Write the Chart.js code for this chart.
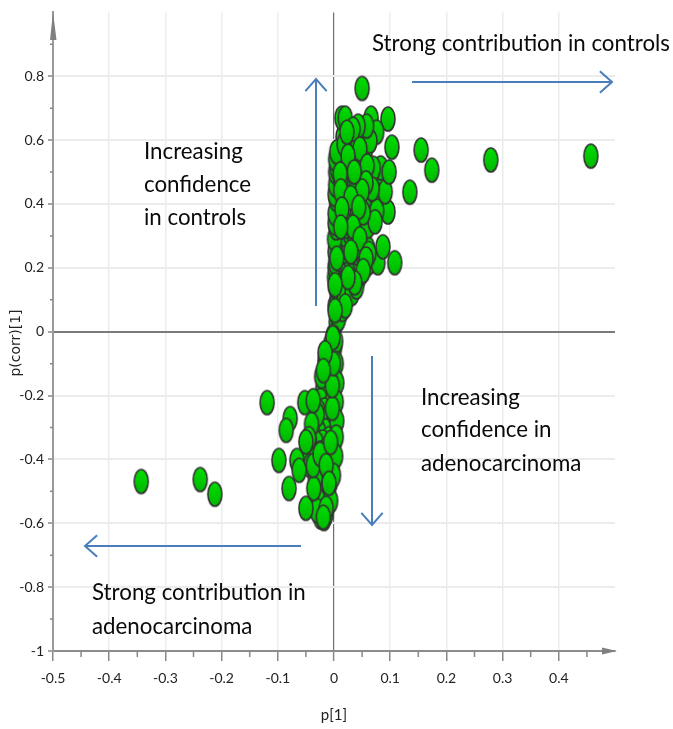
<!DOCTYPE html>
<html><head><meta charset="utf-8">
<style>html,body{margin:0;padding:0;background:#fff}canvas{display:block}</style>
<script src="https://cdn.jsdelivr.net/npm/chart.js@4"></script>
</head><body><canvas id="c" width="673" height="729"></canvas>
<script>
const xTitle = "p[1]";
const yTitle = "p(corr)[1]";
const backPoints = [
[.004,.03],[.009,.055],[.002,.08],[.012,.09],[.006,.11],[.014,.125],[.022,.105],[.003,.14],[.019,.15],[.028,.135],[.01,.165],[.036,.16],[.024,.175],[.044,.17],[.005,.19],[.016,.195],[.031,.19],[.04,.2],[.008,.04],[.015,.07],[.018,.11],[.032,.12],[.04,.14],[.048,.185],[.001,.17],[.002,.2],
[.003,.215],[.011,.225],[.021,.22],[.029,.232],[.038,.225],[.047,.215],[.006,.245],[.016,.25],[.026,.26],[.034,.25],[.043,.245],[.052,.24],[.004,.27],[.013,.28],[.023,.285],[.032,.275],[.041,.27],[.05,.26],[.008,.3],[.018,.305],[.028,.31],[.037,.3],[.002,.25],[.001,.29],[.058,.21],[.065,.22],[.06,.26],[.045,.3],
[.004,.325],[.012,.335],[.021,.33],[.03,.34],[.039,.325],[.047,.33],[.007,.355],[.017,.365],[.026,.36],[.035,.37],[.044,.355],[.052,.35],[.005,.385],[.014,.395],[.024,.39],[.033,.4],[.041,.385],[.002,.34],[.002,.37],[.06,.33],[.056,.4],[.066,.38],[.072,.41],
[.004,.415],[.011,.425],[.019,.42],[.028,.43],[.036,.415],[.045,.42],[.054,.41],[.008,.45],[.016,.455],[.025,.445],[.034,.46],[.043,.45],[.062,.43],[.006,.475],[.014,.485],[.023,.48],[.031,.49],[.04,.475],[.05,.485],[.002,.43],[.003,.46],[.003,.5],[.08,.47],[.075,.43],
[.006,.51],[.014,.52],[.022,.515],[.03,.53],[.04,.51],[.05,.525],[.012,.545],[.02,.555],[.028,.54],[.036,.55],[.044,.54],[.055,.56],[.03,.6],[.04,.61],[.05,.605],[.003,.54],[.06,.5],[.016,.61],[.026,.58],[.055,.62],
[-.002,-.015],[-.006,-.04],[.001,-.05],[-.012,-.07],[-.003,-.085],[-.014,-.11],[-.005,-.12],[-.018,-.135],[-.002,-.15],[-.009,-.165],[-.02,-.18],[-.004,-.19],[-.013,-.205],[-.024,-.215],[-.006,-.23],[-.017,-.245],[-.028,-.25],[-.003,-.26],[-.011,-.27],[-.022,-.28],[-.033,-.285],[-.005,-.3],[-.016,-.31],[-.027,-.315],[-.038,-.32],[-.009,-.335],[-.02,-.345],[-.031,-.35],[-.044,-.34],[-.003,-.36],[-.014,-.37],[-.025,-.38],[-.036,-.385],[-.008,-.395],[-.018,-.41],[-.029,-.42],[-.004,-.43],[-.012,-.445],[-.022,-.455],[-.007,-.475],[-.016,-.49],[-.026,-.5],[-.011,-.52],[-.02,-.54],[-.024,-.58],[-.018,-.585],[-.014,-.57],
[.003,-.03],[.004,-.1],[.005,-.16],[.004,-.22],[.005,-.28],[.004,-.33],[.003,-.39],[-.001,-.45],[-.03,-.26],[-.04,-.29],[-.046,-.38],[-.042,-.42],[-.033,-.46],[-.028,-.53],[-.006,-.53],[-.03,-.56],[-.022,-.14],[-.016,-.09]
];
const frontPoints = [
[.457,.55],[.279,.538],[.174,.506],[.155,.569],[.135,.437],[.05,.762],[.096,.666],[.103,.578],[.066,.669],[.108,.216],[.078,.216],[.087,.266],[.096,.375],[.076,.378],[.073,.344],[.091,.438],[.083,.513],[.07,.512],[.098,.5],
[.076,.625],[.064,.597],[.014,.669],[.02,.669],[.058,.644],[.043,.644],[.034,.634],[.046,.572],[.005,.563],[.018,.587],[.025,.55],[.059,.519],[.023,.625],[.068,.447],[.057,.466],[.05,.441],[.036,.5],[.012,.47],[.011,.494],[.012,.441],[.03,.42],[.052,.372],[.014,.384],[.044,.39],[.034,.328],[.012,.328],[.046,.291],[.062,.245],[.057,.228],[.005,.23],[.03,.25],[.052,.191],[.037,.153],[.025,.17],[.002,.147],[.02,.081],[.002,.066],[-.002,-.019],
[-.343,-.469],[-.238,-.463],[-.212,-.509],[-.119,-.222],[-.078,-.272],[-.085,-.309],[-.098,-.403],[-.08,-.491],[-.05,-.553],[-.066,-.403],[-.062,-.434],[-.052,-.222],[-.037,-.216],[-.036,-.491],[-.037,-.419],[-.045,-.335],[-.05,-.345],[-.025,-.384],[-.014,-.419],[-.009,-.475],[-.014,-.553],[-.019,-.581],[-.006,-.347],[-.003,-.24],[-.003,-.169],[-.001,-.1],[-.016,-.066],[-.019,-.122]
];
const xTicks = [-.5,-.4,-.3,-.2,-.1,0,.1,.2,.3,.4];
const yTicks = [-1,-.8,-.6,-.4,-.2,0,.2,.4,.6,.8];
const notes = [
 ["Strong contribution in controls",372,44],
 ["Increasing",144,152],["confidence",144,185],["in controls",144,218],
 ["Increasing",421,398],["confidence in",421,430],["adenocarcinoma",421,464],
 ["Strong contribution in",92,593],["adenocarcinoma",92,627]
];
const arrows = [[316,306,316,79],[412,82,612,82],[372,356,372,525],[301,546,85,546]];

function marker(){
  const m=document.createElement('canvas');m.width=18;m.height=28;
  const g=m.getContext('2d');
  const f=g.createLinearGradient(0,2,0,26);f.addColorStop(0,'#00de00');f.addColorStop(1,'#00b800');
  g.beginPath();g.ellipse(9,14,7,12,0,0,Math.PI*2);g.fillStyle=f;g.fill();
  g.lineWidth=1.6;g.strokeStyle='#333';g.stroke();
  return m;
}
const toXY=p=>({x:p[0],y:p[1]});
const same=(a,b)=>Math.abs(a-b)<1e-6;
const fmt=v=>String(Math.round(v*10)/10);
const LBL="Lato";

const decor={id:'decor',
 afterDraw(ch){
  const c=ch.ctx,xs=ch.scales.x,ys=ch.scales.y;c.save();
  c.strokeStyle='#888';c.lineWidth=1.5;c.beginPath();
  for(let i=0;i<10;i++){const p=xs.getPixelForValue(-.45+i*.1);c.moveTo(p,ch.chartArea.bottom);c.lineTo(p,ch.chartArea.bottom+6);}
  for(let i=0;i<10;i++){const p=ys.getPixelForValue(-.9+i*.2);c.moveTo(ch.chartArea.left-3,p);c.lineTo(ch.chartArea.left,p);}
  c.stroke();
  c.fillStyle='#808080';
  c.beginPath();c.moveTo(53,12);c.lineTo(50,40);c.lineTo(56.5,40);c.closePath();c.fill();
  c.beginPath();c.moveTo(617,651);c.lineTo(602,647.5);c.lineTo(602,654.5);c.closePath();c.fill();
  c.strokeStyle='#4a7ebb';c.lineWidth=2;
  for(const [a,b,d,e] of arrows){
    const t=Math.atan2(e-b,d-a),L=19;
    c.beginPath();c.moveTo(a,b);c.lineTo(d,e);
    c.moveTo(d-L*Math.cos(t-.72)*.85,e-L*Math.sin(t-.72)*.85);c.lineTo(d,e);c.lineTo(d-L*Math.cos(t+.72)*.85,e-L*Math.sin(t+.72)*.85);
    c.stroke();
  }
  c.fillStyle='#0a0a0a';c.font="22.3px Lato";c.textBaseline='middle';c.textAlign='left';
  for(const [s,x,y] of notes)c.fillText(s,x,y);
  c.save();c.translate(16,343);c.rotate(-Math.PI/2);c.textAlign='center';c.font="14px 'DejaVu Sans'";c.fillStyle='#222';c.fillText(yTitle,0,0);c.restore();
  c.restore();
 }};

new Chart(document.getElementById('c'),{
 type:'scatter',
 data:{datasets:[{data:backPoints.concat(frontPoints).map(toXY),pointStyle:marker(),pointRadius:8,pointHoverRadius:8,clip:false,showLine:false}]},
 plugins:[decor],
 options:{responsive:false,animation:false,events:[],
  layout:{padding:{left:0,top:11,right:58,bottom:0}},
  plugins:{legend:{display:false},title:{display:false},tooltip:{enabled:false}},
  scales:{
   x:{type:'linear',min:-.5,max:.5,
    afterBuildTicks(s){s.ticks=xTicks.map(v=>({value:v}));},
    afterFit(s){s.height=78;},
    ticks:{padding:9,maxRotation:0,autoSkip:false,color:'#222',font:{family:LBL,size:14},callback:v=>fmt(v)},
    title:{display:true,text:xTitle,color:'#222',font:{family:LBL,size:15},padding:{top:10,bottom:5}},
    border:{display:true,color:'#8c8c8c',width:2},
    grid:{drawTicks:true,tickLength:10,tickColor:'#888',tickWidth:1.5,
      color:c=>same(c.tick.value,0)?'#6e6e6e':'#ececec',lineWidth:c=>same(c.tick.value,0)?1.2:1.5}
   },
   y:{type:'linear',min:-1,max:1,
    afterBuildTicks(s){s.ticks=yTicks.map(v=>({value:v}));},
    afterFit(s){s.width=53;},
    ticks:{padding:4,autoSkip:false,color:'#222',font:{family:LBL,size:14},callback:v=>fmt(v)},
    border:{display:true,color:'#9a9a9a',width:2},
    grid:{drawTicks:true,tickLength:5,tickColor:'#888',tickWidth:1.5,
      color:c=>same(c.tick.value,0)?'#7a7a7a':'#ececec',lineWidth:2}
   }
  }
 }
});
</script></body></html>
